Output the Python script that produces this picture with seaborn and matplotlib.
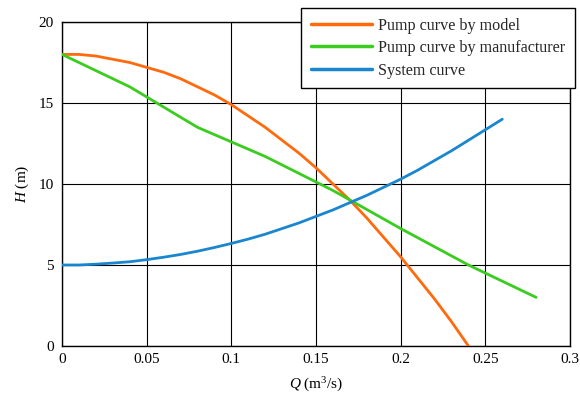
import matplotlib
matplotlib.use("Agg")
import matplotlib.pyplot as plt
import seaborn as sns
import pandas as pd

# Data
q_model = [0.0, 0.01, 0.02, 0.03, 0.04, 0.05, 0.06, 0.07, 0.08, 0.09, 0.10, 0.11, 0.12,
           0.13, 0.14, 0.15, 0.16, 0.17, 0.18, 0.19, 0.20, 0.21, 0.22, 0.23, 0.24]
h_model = [18.0, 18.0, 17.9, 17.7, 17.5, 17.2, 16.9, 16.5, 16.0, 15.5, 14.9, 14.2, 13.5,
           12.7, 11.9, 11.0, 10.0, 9.0, 7.9, 6.7, 5.5, 4.2, 2.9, 1.5, 0.0]

q_manu = [0.0, 0.04, 0.08, 0.12, 0.16, 0.20, 0.24, 0.28]
h_manu = [18.0, 16.0, 13.5, 11.7, 9.6, 7.25, 5.0, 3.0]

q_sys = [0.0, 0.01, 0.02, 0.03, 0.04, 0.05, 0.06, 0.07, 0.08, 0.09, 0.10, 0.11, 0.12, 0.13,
         0.14, 0.15, 0.16, 0.17, 0.18, 0.19, 0.20, 0.21, 0.22, 0.23, 0.24, 0.25, 0.26]
h_sys = [5.0, 5.0, 5.05, 5.12, 5.2, 5.33, 5.48, 5.65, 5.85, 6.08, 6.33, 6.6, 6.9, 7.25,
         7.6, 8.0, 8.4, 8.85, 9.3, 9.8, 10.3, 10.85, 11.45, 12.05, 12.7, 13.35, 14.0]

labels = ["Pump curve by model", "Pump curve by manufacturer", "System curve"]
colors = ["#FF6A0D", "#3ACC1E", "#1A86CE"]

x_ticks = [0, 0.05, 0.1, 0.15, 0.2, 0.25, 0.3]
x_tick_labels = ["0", "0.05", "0.1", "0.15", "0.2", "0.25", "0.3"]
y_ticks = [0, 5, 10, 15, 20]

df = pd.concat([
    pd.DataFrame({"Q": q_model, "H": h_model, "series": labels[0]}),
    pd.DataFrame({"Q": q_manu, "H": h_manu, "series": labels[1]}),
    pd.DataFrame({"Q": q_sys, "H": h_sys, "series": labels[2]}),
], ignore_index=True)

sns.set_theme(style="white")
plt.rcParams["font.family"] = ["Liberation Serif", "DejaVu Serif"]
plt.rcParams["mathtext.fontset"] = "custom"
plt.rcParams["mathtext.rm"] = "Liberation Serif"
plt.rcParams["mathtext.it"] = "Liberation Serif:italic"

fig = plt.figure(figsize=(5.8, 3.96), dpi=100)
ax = fig.add_axes([0.1069, 0.1263, 0.8759, 0.8181])

sns.lineplot(data=df, x="Q", y="H", hue="series", hue_order=labels,
             palette=dict(zip(labels, colors)), linewidth=2.0, sort=False,
             estimator=None, ax=ax, zorder=3)

ax.set_xlim(0, 0.3)
ax.set_ylim(0, 20)
ax.set_xticks(x_ticks)
ax.set_xticklabels(x_tick_labels)
ax.set_yticks(y_ticks)
ax.grid(True, color="black", linewidth=0.8)
ax.set_axisbelow(True)
for s in ax.spines.values():
    s.set_color("black")
    s.set_linewidth(1.0)
    s.set_visible(True)
ax.tick_params(axis="both", length=0, labelsize=11, colors="black")
ax.tick_params(axis="x", pad=5)
ax.tick_params(axis="y", pad=6)

ax.set_xlabel("$Q$ (m$^3$/s)", fontsize=11, color="black", labelpad=7)
ax.set_ylabel("$H$ (m)", fontsize=11, color="black", labelpad=5)

leg = ax.legend(loc="upper right", bbox_to_anchor=(0.9914, 0.9798),
                bbox_transform=fig.transFigure, borderaxespad=0,
                fontsize=11.6, frameon=True, fancybox=False, framealpha=1,
                edgecolor="black", handlelength=3.8, handletextpad=0.4,
                labelspacing=0.4, borderpad=0.6)
leg.get_frame().set_linewidth(1.0)
for line in leg.get_lines():
    line.set_linewidth(2.5)
leg.set_zorder(10)

fig.savefig("out.png", dpi=100)
